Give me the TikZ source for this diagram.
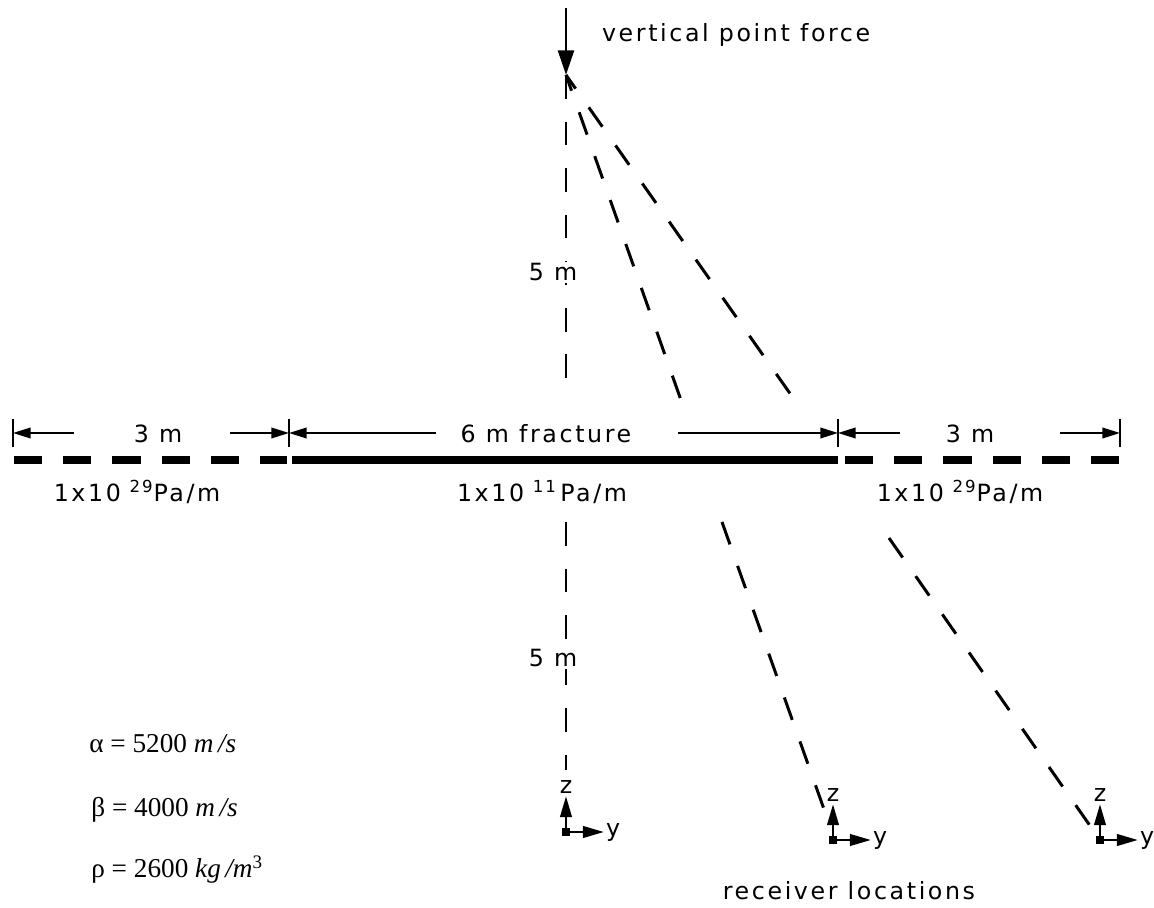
\documentclass[tikz,border=0pt]{standalone}
\usepackage{fontspec}
\newfontfamily\plotfont[LetterSpace=11]{DejaVu Sans}
\newfontfamily\timesfont{Liberation Serif}
\usetikzlibrary{arrows.meta}

\begin{document}
\begin{tikzpicture}[x=0.02cm, y=-0.02cm, >=Stealth,
    lbl/.style={font={\plotfont\fontsize{13.5}{16}\selectfont}, inner sep=1pt},
    ray/.style={line width=1.7pt, dash pattern=on 13.5pt off 13pt},
    frac/.style={line width=4pt},
    dimarrow/.style={line width=1.1pt, -{Triangle[length=10pt, width=6pt]}},
    axisarrow/.style={line width=1.6pt, -{Triangle[length=12pt, width=6.5pt]}},
    const/.style={anchor=base west, inner sep=0pt, font={\timesfont\fontsize{15.5}{18}\selectfont}}]

    \useasboundingbox (0,0) rectangle (1154,908);

    % ==========================================
    % 1. SOURCE: vertical point force
    % ==========================================
    \coordinate (src) at (566,75);
    \coordinate (ftop) at (566,8);
    \draw[line width=1.7pt, -{Triangle[length=14pt, width=9pt]}] (ftop) -- (src);
    \node[lbl, anchor=base west] (force) at (600,42) {vertical point force};

    % ==========================================
    % 2. RECEIVERS (local y-z axes)
    % ==========================================
    \foreach \n/\px/\py in {1/566/832, 2/833/840, 3/1100/840} {
        \coordinate (o\n) at (\px,\py);
        \fill (o\n) ++(-4,-4) rectangle ++(8,8);
        \node[lbl, anchor=base] (z\n) at (\px,\py-38) {z};
        \node[lbl, anchor=base west] (y\n) at (\px+38,\py+5) {y};
        \draw[axisarrow] (o\n) -- (z\n.south);
        \draw[axisarrow] (o\n) -- (y\n.west |- o\n);
    }
    \node[lbl, anchor=base] (rloc) at (849,900) {receiver locations};

    % ==========================================
    % 3. RAY PATHS (dashed)
    % ==========================================
    % straight down
    \coordinate (vA) at (566,385);
    \coordinate (vB) at (566,522);
    \coordinate (vC) at (566,770);
    \draw[ray] (src) -- (vA);
    \draw[ray] (vB) -- (vC);

    % to second receiver
    \coordinate (r1a) at (682,403);
    \coordinate (r1b) at (722,522);
    \coordinate (r1c) at (825,812);
    \draw[ray, dash phase=4pt] (src) -- (r1a);
    \draw[ray] (r1b) -- (r1c);

    % to third receiver
    \coordinate (r2a) at (796,402);
    \coordinate (r2b) at (889,538);
    \coordinate (r2c) at (1093,830);
    \draw[ray, dash phase=4pt] (src) -- (r2a);
    \draw[ray] (r2b) -- (r2c);

    % distances
    \node[lbl, anchor=base, fill=white] (h1) at (553,281) {5 m};
    \node[lbl, anchor=base, fill=white] (h2) at (553,667) {5 m};

    % ==========================================
    % 4. FRACTURE PLANE
    % ==========================================
    \coordinate (fL) at (14,460);
    \coordinate (fA) at (287,460);
    \coordinate (fB) at (292,460);
    \coordinate (fC) at (838,460);
    \coordinate (fD) at (845,460);
    \coordinate (fR) at (1120,460);
    \draw[frac, dash pattern=on 16pt off 12pt] (fL) -- (fA);
    \draw[frac] (fB) -- (fC);
    \draw[frac, dash pattern=on 16pt off 12pt] (fD) -- (fR);

    \node[lbl, anchor=base] (k1) at (137,502) {1x10\hspace{5pt}\textsuperscript{29}Pa/m};
    \node[lbl, anchor=base] (k2) at (542,502) {1x10\hspace{5pt}\textsuperscript{11}\hspace{2pt}Pa/m};
    \node[lbl, anchor=base] (k3) at (960,502) {1x10\hspace{5pt}\textsuperscript{29}Pa/m};

    % ==========================================
    % 5. DIMENSION LINE
    % ==========================================
    \foreach \t/\tx in {t1/13, t2/289, t3/838, t4/1120} {
        \coordinate (\t) at (\tx,433);
        \draw[line width=1.1pt] (\t) ++(0,-14) -- ++(0,28);
    }
    \node[lbl, anchor=base] (w1) at (158,443) {3 m};
    \node[lbl, anchor=base] (w2) at (546,443) {6 m fracture};
    \node[lbl, anchor=base] (w3) at (970,443) {3 m};

    \coordinate (d1a) at (74,433);
    \coordinate (d1b) at (230,433);
    \coordinate (d2a) at (436,433);
    \coordinate (d2b) at (678,433);
    \coordinate (d3a) at (900,433);
    \coordinate (d3b) at (1060,433);
    \draw[dimarrow] (d1a) -- (t1);
    \draw[dimarrow] (d1b) -- (t2);
    \draw[dimarrow] (d2a) -- (t2);
    \draw[dimarrow] (d2b) -- (t3);
    \draw[dimarrow] (d3a) -- (t3);
    \draw[dimarrow] (d3b) -- (t4);

    % ==========================================
    % 6. MATERIAL CONSTANTS
    % ==========================================
    \node[const] (alpha) at (89,753) {α = 5200 \textit{m\,/s}};
    \node[const] (beta) at (91,817) {β = 4000 \textit{m\,/s}};
    \node[const] (rho) at (91,878) {ρ = 2600 \textit{kg\,/m}\textsuperscript{3}};

\end{tikzpicture}
\end{document}
